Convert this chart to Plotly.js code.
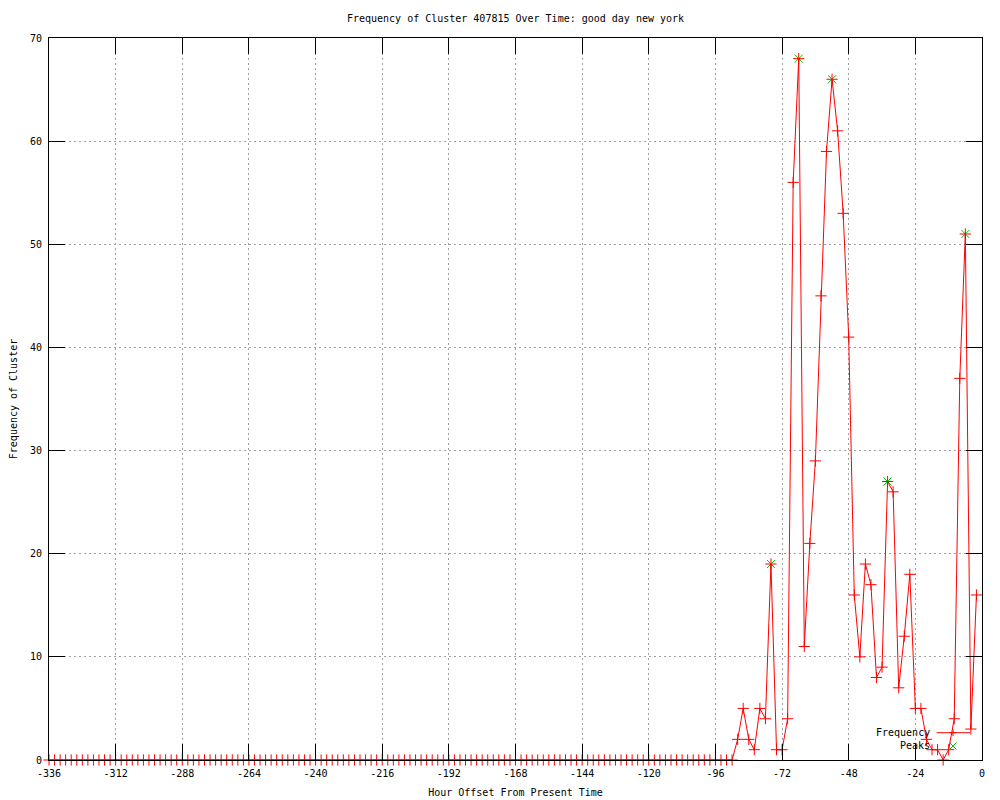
<!DOCTYPE html>
<html>
<head>
<meta charset="utf-8">
<script src="https://cdn.plot.ly/plotly-3.0.1.min.js"></script>
<style>
  html, body { margin: 0; padding: 0; background: #ffffff; }
  #chart { width: 1000px; height: 800px; }
</style>
</head>
<body>
<div id="chart"></div>
<script>
// ---- Data ----
var hours = [
  -336,-334,-332,-330,-328,-326,-324,-322,-320,-318,-316,-314,
  -312,-310,-308,-306,-304,-302,-300,-298,-296,-294,-292,-290,
  -288,-286,-284,-282,-280,-278,-276,-274,-272,-270,-268,-266,
  -264,-262,-260,-258,-256,-254,-252,-250,-248,-246,-244,-242,
  -240,-238,-236,-234,-232,-230,-228,-226,-224,-222,-220,-218,
  -216,-214,-212,-210,-208,-206,-204,-202,-200,-198,-196,-194,
  -192,-190,-188,-186,-184,-182,-180,-178,-176,-174,-172,-170,
  -168,-166,-164,-162,-160,-158,-156,-154,-152,-150,-148,-146,
  -144,-142,-140,-138,-136,-134,-132,-130,-128,-126,-124,-122,
  -120,-118,-116,-114,-112,-110,-108,-106,-104,-102,-100,-98,
  -96,-94,-92,-90,-88,-86,-84,-82,-80,-78,-76,-74,
  -72,-70,-68,-66,-64,-62,-60,-58,-56,-54,-52,-50,
  -48,-46,-44,-42,-40,-38,-36,-34,-32,-30,-28,-26,
  -24,-22,-20,-18,-16,-14,-12,-10,-8,-6,-4,-2
];
var frequency = [
  0,0,0,0,0,0,0,0,0,0,0,0,
  0,0,0,0,0,0,0,0,0,0,0,0,
  0,0,0,0,0,0,0,0,0,0,0,0,
  0,0,0,0,0,0,0,0,0,0,0,0,
  0,0,0,0,0,0,0,0,0,0,0,0,
  0,0,0,0,0,0,0,0,0,0,0,0,
  0,0,0,0,0,0,0,0,0,0,0,0,
  0,0,0,0,0,0,0,0,0,0,0,0,
  0,0,0,0,0,0,0,0,0,0,0,0,
  0,0,0,0,0,0,0,0,0,0,0,0,
  0,0,0,0,2,5,2,1,5,4,19,1,
  1,4,56,68,11,21,29,45,59,66,61,53,
  41,16,10,19,17,8,9,27,26,7,12,18,
  5,5,2,1,1,0,1,4,37,51,3,16
];
var peakHours = [-76, -66, -54, -34, -6];
var peakValues = [19, 68, 66, 27, 51];

var xTickVals = [-336,-312,-288,-264,-240,-216,-192,-168,-144,-120,-96,-72,-48,-24,0];
var xTickText = ["-336","-312","-288","-264","-240","-216","-192","-168","-144","-120","-96","-72","-48","-24","0"];
var yTickVals = [0,10,20,30,40,50,60,70];
var yTickText = ["0","10","20","30","40","50","60","70"];

var chartTitle = "Frequency of Cluster 407815 Over Time: good day new york";
var xTitle = "Hour Offset From Present Time";
var yTitle = "Frequency of Cluster";
var seriesNames = ["Frequency", "Peaks"];

// ---- Styles ----
var RED = "#ff0000";
var GREEN = "#00c000";
var FONT = "DejaVu Sans Mono, Liberation Mono, monospace";

var traces = [
  {
    x: peakHours, y: peakValues, type: "scatter", mode: "markers",
    name: seriesNames[1], cliponaxis: false, showlegend: false,
    marker: { symbol: "x-thin-open", size: 8, color: GREEN, line: { color: GREEN, width: 1 } },
    hoverinfo: "x+y"
  },
  {
    x: hours, y: frequency, type: "scatter", mode: "lines+markers",
    name: seriesNames[0], cliponaxis: false, showlegend: false,
    line: { color: RED, width: 1 },
    marker: { symbol: "cross-thin-open", size: 8, color: RED, line: { color: RED, width: 1 } },
    hoverinfo: "x+y"
  }
];

// custom gnuplot-style key (text on the left, sample on the right)
var kx0 = 0.9514, kx1 = 0.9871, kxm = 0.9689;
var ky1 = 0.0378, ky2 = 0.0194;
var dx = 0.0037, dy = 0.0048;
var shapes = [
  { type: "line", xref: "paper", yref: "paper", x0: kx0, x1: kx1, y0: ky1, y1: ky1, line: { color: RED, width: 1 } },
  { type: "line", xref: "paper", yref: "paper", x0: kxm - dx, x1: kxm + dx, y0: ky1, y1: ky1, line: { color: RED, width: 1 } },
  { type: "line", xref: "paper", yref: "paper", x0: kxm, x1: kxm, y0: ky1 - dy, y1: ky1 + dy, line: { color: RED, width: 1 } },
  { type: "line", xref: "paper", yref: "paper", x0: kxm - dx, x1: kxm + dx, y0: ky2 - dy, y1: ky2 + dy, line: { color: GREEN, width: 1 } },
  { type: "line", xref: "paper", yref: "paper", x0: kxm - dx, x1: kxm + dx, y0: ky2 + dy, y1: ky2 - dy, line: { color: GREEN, width: 1 } }
];
var annotations = [
  { xref: "paper", yref: "paper", x: 0.9465, y: ky1, xanchor: "right", yanchor: "middle",
    text: seriesNames[0], showarrow: false, font: { family: FONT, size: 10, color: "#000" } },
  { xref: "paper", yref: "paper", x: 0.9465, y: ky2, xanchor: "right", yanchor: "middle",
    text: seriesNames[1], showarrow: false, font: { family: FONT, size: 10, color: "#000" } }
];

var axisCommon = {
  showline: true, linecolor: "#000", linewidth: 1, mirror: "allticks",
  ticks: "inside", ticklen: 16, tickwidth: 1, tickcolor: "#000",
  showgrid: true, gridcolor: "#a0a0a0", gridwidth: 1, griddash: "2px,3px",
  zeroline: false, tickfont: { family: FONT, size: 10, color: "#000" },
  tickmode: "array", fixedrange: true, layer: "above traces"
};

var layout = {
  width: 1000, height: 800,
  paper_bgcolor: "#ffffff", plot_bgcolor: "#ffffff",
  margin: { l: 49, r: 18, t: 38, b: 40, pad: 0 },
  showlegend: false,
  font: { family: FONT, size: 10, color: "#000" },
  title: { text: chartTitle, x: 0.5155, xanchor: "center", y: 0.9775, yanchor: "middle",
           font: { family: FONT, size: 10, color: "#000" } },
  xaxis: Object.assign({}, axisCommon, {
    range: [-336, 0], tickvals: xTickVals, ticktext: xTickText,
    ticklabelstandoff: 4,
    title: { text: xTitle, standoff: 10, font: { family: FONT, size: 10, color: "#000" } }
  }),
  yaxis: Object.assign({}, axisCommon, {
    range: [0, 70], tickvals: yTickVals, ticktext: yTickText,
    ticklabelstandoff: 4,
    title: { text: yTitle, standoff: 10, font: { family: FONT, size: 10, color: "#000" } }
  }),
  shapes: shapes,
  annotations: annotations
};

Plotly.newPlot("chart", traces, layout, { displayModeBar: false, staticPlot: true });
</script>
</body>
</html>
